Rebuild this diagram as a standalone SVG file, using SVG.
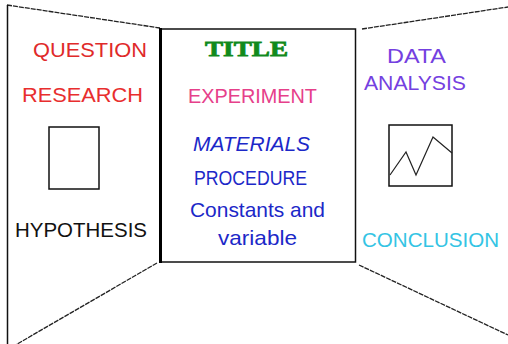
<svg xmlns="http://www.w3.org/2000/svg" width="508" height="344" viewBox="0 0 508 344">
<style>
.t{font-family:"Liberation Sans",Arial,sans-serif;font-size:21px;}
.edge{stroke:#222;stroke-width:1.3;fill:none;stroke-dasharray:5 1;}
.box{stroke:#111;stroke-width:1.5;fill:none;}
</style>
<rect width="508" height="344" fill="#fff"/>
<g id="connectors">
<line class="edge" x1="7" y1="5" x2="160" y2="28"/>
<line class="edge" x1="362" y1="29" x2="508" y2="7"/>
<line class="edge" x1="157" y1="263" x2="12" y2="347"/>
<line class="edge" x1="359" y1="265" x2="508" y2="335"/>
<line x1="7.5" y1="5" x2="7.5" y2="344" stroke="#111" stroke-width="1.5"/>
</g>
<g id="center-panel">
<rect class="box" x="160.5" y="29" width="195" height="233"/>
<line x1="160.5" y1="28" x2="160.5" y2="263" stroke="#000" stroke-width="3"/>
<text x="205" y="56" font-family="'Liberation Serif',serif" font-weight="bold" font-size="22" fill="#118a1c" stroke="#118a1c" stroke-width="0.8" textLength="83" lengthAdjust="spacingAndGlyphs">TITLE</text>
<text class="t" x="188" y="103" fill="#e6408a" textLength="129" lengthAdjust="spacingAndGlyphs">EXPERIMENT</text>
<text class="t" x="193" y="151" fill="#1c28c8" font-style="italic" textLength="117" lengthAdjust="spacingAndGlyphs">MATERIALS</text>
<text class="t" x="194" y="185" fill="#1c28c8" textLength="113" lengthAdjust="spacingAndGlyphs">PROCEDURE</text>
<text class="t" x="190" y="217" fill="#1c28c8" font-size="18" textLength="135" lengthAdjust="spacingAndGlyphs">Constants and</text>
<text class="t" x="218" y="245" fill="#1c28c8" font-size="18" textLength="79" lengthAdjust="spacingAndGlyphs">variable</text>
</g>
<g id="left-panel">
<text class="t" x="33" y="57" fill="#e02a2a" textLength="114" lengthAdjust="spacingAndGlyphs">QUESTION</text>
<text class="t" x="22" y="102" fill="#e82e2e" textLength="121" lengthAdjust="spacingAndGlyphs">RESEARCH</text>
<rect class="box" x="49" y="127" width="50" height="62"/>
<text class="t" x="15" y="237" fill="#111" textLength="132" lengthAdjust="spacingAndGlyphs">HYPOTHESIS</text>
</g>
<g id="right-panel">
<text class="t" x="387" y="63" fill="#7440e0" textLength="59" lengthAdjust="spacingAndGlyphs">DATA</text>
<text class="t" x="364" y="90" fill="#7440e0" textLength="102" lengthAdjust="spacingAndGlyphs">ANALYSIS</text>
<rect class="box" x="389" y="125" width="63" height="61"/>
<polyline points="390,175 406,152 416,175 433,137 452,153" fill="none" stroke="#222" stroke-width="1.2"/>
<text class="t" x="362" y="247" fill="#34c4e4" textLength="137" lengthAdjust="spacingAndGlyphs">CONCLUSION</text>
</g>
</svg>
